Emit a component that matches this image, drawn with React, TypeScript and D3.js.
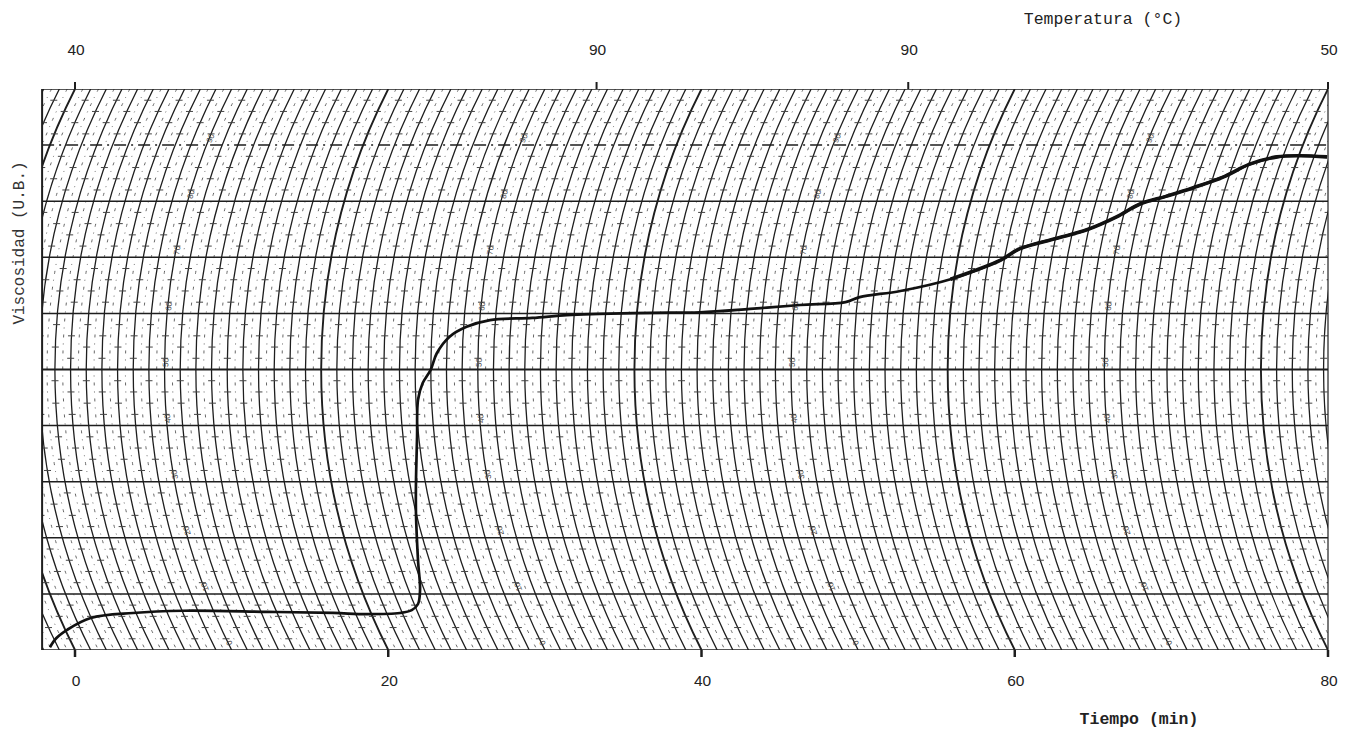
import React from "react";
import * as d3 from "d3";

// ---- data ----
const timeTicks = [0, 20, 40, 60, 80];
const tempTickTimes = [0, 33.3, 53.2, 80];
const tempTickLabels = ["40", "90", "90", "50"];
const buLevels = [0, 100, 200, 300, 400, 500, 600, 700, 800, 900, 1000];
const labeledArcTimes = [10, 30, 50, 70];

const curveTime = [-1.6, -1.2, -0.5, 1.0, 3.7, 6.9, 12.3, 16.5, 18.6, 20.75, 21.5, 21.9, 22.03, 21.9, 21.77, 21.77, 21.84, 21.9, 22.2, 22.7, 23.1, 23.9, 25.0, 26.5, 29.2, 31.4, 33.5, 36.7, 39.9, 43.1, 46.3, 49.2, 50.1, 52.7, 55.9, 59.1, 60.3, 62.7, 64.6, 66.5, 68.0, 69.7, 71.4, 73.3, 75.0, 76.75, 78.2, 79.94];
const curveBU = [5, 21, 36, 57, 66, 70, 68, 66, 64, 66, 71, 82, 107, 160, 244, 298, 380, 446, 476, 499, 529, 558, 576, 588, 592, 597, 599, 601, 602, 608, 615, 620, 629, 640, 661, 695, 715, 734, 749, 772, 795, 809, 824, 843, 866, 879, 881, 879];

const W = 1350;
const H = 733;
const INK = "#1e1e1e";

export default function App() {
  const x = d3.scaleLinear().domain([0, 80]).range([75, 1328]);
  const y = d3.scaleLinear().domain([0, 1000]).range([650, 89]);
  const left = x(-2.1);
  const right = x(80);
  const top = y(1000);
  const bottom = y(0);
  const yMid = (top + bottom) / 2;
  const h = (bottom - top) / 2;
  const R = 620;
  const k = Math.sqrt(R * R - h * h);

  const arcX = (t: number, yy: number) => x(t) + k - Math.sqrt(R * R - (yy - yMid) * (yy - yMid));
  const arcPath = (t: number) => `M${x(t)},${top}A${R},${R} 0 0 0 ${x(t)},${bottom}`;

  const solidTimes = d3.range(-2, 85, 1);
  const dotTimes = d3.range(-1.5, 85, 1);

  // minor ticks at 20 BU levels
  const minorLevels = d3.range(0, 1001, 20).filter((v) => v % 100 !== 0);
  const tp = d3.path();
  solidTimes.forEach((t, ti) => {
    minorLevels.forEach((v, vi) => {
      if ((ti + vi) % 2 === 1) return;
      const yy = y(v);
      const ax = arcX(t, yy);
      tp.moveTo(ax - 3.5, yy);
      tp.lineTo(ax + 3.5, yy);
    });
  });

  const line = d3
    .line<number>()
    .x((_, i) => x(curveTime[i]))
    .y((_, i) => y(curveBU[i]))
    .curve(d3.curveCatmullRom.alpha(0.5));
  const curveD = line(curveTime) || "";
  const idxR = curveTime.findIndex((t) => t >= 55.9);
  const rightIdx = d3.range(idxR, curveTime.length);
  const lineR = d3
    .line<number>()
    .x((i) => x(curveTime[i]))
    .y((i) => y(curveBU[i]))
    .curve(d3.curveCatmullRom.alpha(0.5));
  const curveRD = lineR(rightIdx) || "";

  const mono = "'Liberation Mono', 'DejaVu Sans Mono', monospace";
  const sans = "'Liberation Sans', Arial, sans-serif";

  return (
    <svg width={W} height={H} style={{ position: "absolute", left: 0, top: 0, background: "#fff" }}>
      <defs>
        <clipPath id="plot">
          <rect x={left} y={top} width={right - left} height={bottom - top} />
        </clipPath>
      </defs>
      <rect width={W} height={H} fill="#fff" />
      <g clipPath="url(#plot)">
        {dotTimes.map((t) => (
          <path key={"d" + t} d={arcPath(t)} fill="none" stroke="#666" strokeWidth={1} strokeDasharray="3 6 1 6" />
        ))}
        {solidTimes.map((t) => (
          <path
            key={"s" + t}
            d={arcPath(t)}
            fill="none"
            stroke={INK}
            strokeWidth={t % 20 === 0 ? 1.9 : 1.3}
          />
        ))}
        <path d={tp.toString()} fill="none" stroke="#444" strokeWidth={1} />
        {buLevels.map((v) => (
          <line
            key={"h" + v}
            x1={left}
            x2={right}
            y1={y(v)}
            y2={y(v)}
            stroke={INK}
            strokeWidth={v === 500 ? 2 : 1.5}
            strokeDasharray={v === 900 ? "12 5 2 5" : undefined}
          />
        ))}
        {labeledArcTimes.map((t) =>
          buLevels.map((v) => {
            const yy = y(v) - 7;
            const ax = arcX(t, yy) + 1;
            const dy = yy - yMid;
            const theta = (Math.atan(dy / Math.sqrt(R * R - dy * dy)) * 180) / Math.PI;
            return (
              <text
                key={"l" + t + "-" + v}
                transform={`translate(${ax},${yy}) rotate(${-90 - theta})`}
                fontFamily={sans}
                fontSize={8}
                fill="#444"
                textAnchor="middle"
                dy="0.35em"
              >
                {String(v / 10)}
              </text>
            );
          })
        )}
      </g>
      {/* borders */}
      <line x1={left} x2={left} y1={top} y2={bottom} stroke={INK} strokeWidth={2} />
      <line x1={right} x2={right} y1={top} y2={bottom} stroke={INK} strokeWidth={1.2} />
      {/* curve */}
      <path d={curveD} fill="none" stroke="#111" strokeWidth={2.7} strokeLinejoin="round" />
      <path d={curveRD} fill="none" stroke="#111" strokeWidth={3.6} strokeLinejoin="round" />
      {/* bottom ticks */}
      {timeTicks.map((t) => (
        <g key={"bt" + t}>
          <line x1={x(t)} x2={x(t)} y1={bottom} y2={bottom + 7} stroke={INK} strokeWidth={2.5} />
          <text x={x(t) + 1} y={686} fontFamily={sans} fontSize={15.5} fill="#222" textAnchor="middle">
            {t}
          </text>
        </g>
      ))}
      {/* top temp ticks */}
      {tempTickTimes.map((t, i) => (
        <g key={"tt" + i}>
          <line x1={x(t)} x2={x(t)} y1={top - 7} y2={top} stroke={INK} strokeWidth={2} />
          <text x={x(t) + 1} y={55} fontFamily={sans} fontSize={15.5} fill="#222" textAnchor="middle">
            {tempTickLabels[i]}
          </text>
        </g>
      ))}
      <text x={1103} y={24} fontFamily={mono} fontSize={16.5} fill="#222" textAnchor="middle">
        Temperatura (°C)
      </text>
      <text x={1139} y={724} fontFamily={mono} fontSize={16.5} fontWeight="bold" fill="#222" textAnchor="middle">
        Tiempo (min)
      </text>
      <text
        transform={`translate(24,243) rotate(-90)`}
        fontFamily={mono}
        fontSize={16}
        fill="#333"
        textAnchor="middle"
      >
        Viscosidad (U.B.)
      </text>
    </svg>
  );
}
